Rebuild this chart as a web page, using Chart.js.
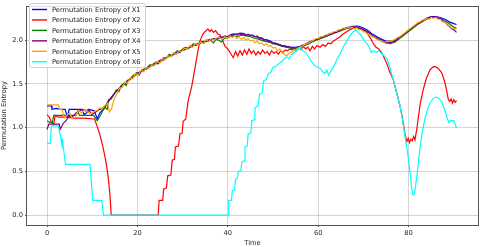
<!DOCTYPE html>
<html>
<head>
<meta charset="utf-8">
<script src="https://cdn.jsdelivr.net/npm/chart.js@4.4.1/dist/chart.umd.min.js"></script>
<style>
  html, body { margin: 0; padding: 0; background: #fff; }
  #wrap { width: 480px; height: 247px; }
</style>
</head>
<body>
<div id="wrap"><canvas id="chart" width="480" height="247"></canvas></div>
<script>
// series names and colours (matplotlib named colours)
const seriesNames = ['Permutation Entropy of X1', 'Permutation Entropy of X2', 'Permutation Entropy of X3',
                     'Permutation Entropy of X4', 'Permutation Entropy of X5', 'Permutation Entropy of X6'];
const seriesColors = ['#0000ff', '#ff0000', '#008000', '#800080', '#ffa500', '#00ffff'];

const xTicks = [0, 20, 40, 60, 80];
const yTicks = [0, 0.5, 1.0, 1.5, 2.0];

// [time, entropy]
const x1 = [[0,1.25],[1,1.25],[1.1,1.21],[2,1.22],[3,1.21],[4,1.21],[4.5,1.12],[4.9,1.21],[6,1.21],[7.7,1.21],[8.2,1.15],[8.8,1.17],[9.4,1.21],[10.5,1.19],[11.1,1.1],[11.7,1.17],[12.3,1.2],[12.9,1.24],[13.5,1.3],[14.1,1.33],[14.7,1.38],[15.3,1.42],[16,1.45],[16.6,1.49],[17.2,1.5],[17.8,1.54],[18.4,1.56],[19,1.59],[19.7,1.61],[20.3,1.63],[21,1.65],[21.6,1.67],[22.3,1.69],[23,1.71],[23.6,1.73],[24.3,1.74],[25,1.77],[25.6,1.78],[26.3,1.8],[27,1.82],[27.6,1.83],[28.3,1.85],[29,1.87],[29.6,1.88],[30.3,1.9],[31,1.91],[31.6,1.92],[32.3,1.94],[33,1.95],[33.6,1.96],[34.3,1.98],[35,1.99],[35.6,1.99],[36.3,2.01],[37,2.01],[38,2.02],[39,2.04],[40,2.04],[41,2.07],[42,2.07],[43,2.08],[44,2.06],[45,2.06],[46,2.04],[47,2.03],[48,2.01],[49,2.0],[50,1.97],[51,1.96],[52,1.94],[53,1.93],[54,1.92],[55,1.92],[56,1.93],[57,1.95],[58,1.98],[59,2.0],[60,2.02],[61,2.04],[62,2.06],[63,2.08],[64,2.1],[65,2.12],[66,2.14],[67,2.15],[68,2.16],[69,2.16],[70,2.14],[71,2.11],[72,2.07],[73,2.04],[74,2.01],[75,1.99],[76,1.99],[77,2.0],[78,2.03],[79,2.07],[80,2.11],[81,2.15],[82,2.19],[83,2.22],[84,2.25],[85,2.27],[86,2.27],[87,2.26],[88,2.24],[89,2.21],[90,2.19],[90.6,2.18]];

const x2 = [[0,1.15],[0.5,1.12],[1,1.06],[1.5,1.04],[1.8,1.14],[2.5,1.12],[4,1.12],[6,1.11],[8,1.11],[10.5,1.1],[11,1.03],[11.5,0.95],[12,0.86],[12.5,0.75],[13,0.62],[13.5,0.45],[13.9,0.25],[14.2,0],[24.6,0],[24.8,0.17],[25.6,0.17],[25.8,0.3],[26.4,0.31],[26.7,0.45],[27.4,0.46],[27.7,0.63],[28.2,0.64],[28.4,0.78],[29.1,0.79],[29.4,0.93],[29.9,0.94],[30.1,1.07],[30.7,1.1],[31.2,1.3],[32,1.47],[32.8,1.7],[33.4,1.88],[33.8,1.99],[34.5,2.07],[35,2.1],[35.6,2.13],[36,2.1],[36.4,2.12],[36.8,2.09],[37.3,2.11],[37.8,2.07],[38.3,2.06],[38.8,2.0],[39.4,1.93],[40,1.9],[40.5,1.86],[41.2,1.8],[41.7,1.87],[42.2,1.82],[42.7,1.88],[43.2,1.83],[43.7,1.89],[44.2,1.84],[44.7,1.9],[45.2,1.85],[45.7,1.88],[46.2,1.83],[46.7,1.87],[47.2,1.84],[47.7,1.89],[48.2,1.85],[48.7,1.87],[49.2,1.83],[49.7,1.88],[50.2,1.85],[50.7,1.87],[51.2,1.84],[51.7,1.88],[52.2,1.86],[52.7,1.89],[53.2,1.88],[53.7,1.9],[54.2,1.89],[54.7,1.91],[55.2,1.88],[55.7,1.92],[56.2,1.89],[56.7,1.93],[57.2,1.9],[57.7,1.92],[58.2,1.88],[58.7,1.93],[59.2,1.9],[59.7,1.94],[60.4,1.92],[61,1.95],[61.6,1.93],[62.2,1.97],[62.8,1.96],[63.3,1.99],[64,2.01],[64.8,2.04],[65.5,2.07],[66.4,2.1],[67,2.12],[67.8,2.14],[68.5,2.15],[69.2,2.13],[70,2.11],[70.8,2.08],[71.5,2.03],[72.2,1.96],[72.8,1.92],[73.4,1.9],[74,1.86],[74.6,1.8],[75.2,1.73],[75.8,1.64],[76.6,1.55],[77.3,1.41],[78,1.27],[78.6,1.12],[79.2,0.93],[79.6,0.84],[79.9,0.88],[80.2,0.83],[80.5,0.87],[80.8,0.85],[81.1,0.9],[81.4,0.86],[81.8,0.98],[82.1,1.1],[82.6,1.28],[83.2,1.43],[83.9,1.56],[84.7,1.66],[85.3,1.69],[85.8,1.7],[86.5,1.68],[87.3,1.63],[87.9,1.54],[88.4,1.43],[88.8,1.32],[89.1,1.3],[89.4,1.33],[89.7,1.28],[90,1.32],[90.3,1.29],[90.6,1.31]];

const x3 = [[0,1.08],[0.6,1.06],[1.2,1.06],[1.5,1.14],[6.5,1.14],[6.8,1.19],[7.2,1.14],[10.3,1.14],[11.1,1.08],[11.8,1.14],[12.4,1.2],[12.9,1.23],[13.3,1.21],[13.6,1.32],[14.2,1.33],[14.7,1.37],[15.3,1.43],[15.9,1.41],[16.4,1.48],[17,1.51],[17.5,1.48],[18.1,1.55],[18.7,1.57],[19.2,1.6],[19.8,1.63],[20.4,1.6],[21,1.66],[21.6,1.67],[22.2,1.69],[22.8,1.72],[23.4,1.71],[24,1.75],[24.6,1.73],[25.2,1.77],[25.8,1.8],[26.4,1.79],[27,1.84],[27.6,1.82],[28.2,1.85],[28.8,1.88],[29.4,1.86],[30,1.9],[30.6,1.92],[31.2,1.9],[31.8,1.93],[32.4,1.96],[33,1.94],[33.6,1.97],[34.2,1.99],[34.8,1.97],[35.4,2.0],[36,2.01],[36.8,1.97],[37.4,2.01],[38,2.0],[38.6,1.98],[39.2,2.02],[40,2.03],[41,2.05],[42,2.04],[43,2.06],[44,2.05],[45,2.04],[46,2.02],[47,2.01],[48,1.99],[49,1.98],[50,1.96],[51,1.95],[52,1.93],[53,1.92],[54,1.91],[55,1.9],[56,1.92],[57,1.94],[58,1.96],[59,1.99],[60,2.01],[61,2.03],[62,2.05],[63,2.07],[64,2.09],[65,2.11],[66,2.13],[67,2.14],[68,2.15],[69,2.14],[70,2.12],[71,2.09],[72,2.05],[73,2.02],[74,1.99],[75,1.97],[76,1.96],[77,1.98],[78,2.02],[79,2.06],[80,2.1],[81,2.14],[82,2.18],[83,2.21],[84,2.24],[85,2.26],[86,2.26],[87,2.25],[88,2.22],[89,2.19],[90,2.15],[90.6,2.14]];

const x4 = [[0,0.98],[0.4,1.04],[2.7,1.04],[2.9,0.98],[3.6,1.05],[4.2,1.08],[5,1.14],[5.5,1.12],[6.5,1.17],[7.5,1.2],[8,1.21],[8.6,1.19],[9.2,1.21],[9.9,1.15],[10.5,1.17],[11.1,1.19],[11.7,1.21],[12.3,1.22],[13,1.26],[13.6,1.3],[14.2,1.35],[14.8,1.38],[15.4,1.42],[16,1.45],[16.6,1.47],[17.2,1.51],[17.8,1.53],[18.4,1.55],[19,1.58],[19.6,1.6],[20.2,1.62],[20.8,1.64],[21.4,1.66],[22,1.67],[22.6,1.7],[23.2,1.71],[23.8,1.72],[24.4,1.74],[25,1.76],[25.6,1.77],[26.2,1.79],[26.8,1.81],[27.4,1.82],[28,1.84],[28.6,1.85],[29.2,1.86],[29.8,1.88],[30.4,1.89],[31,1.91],[31.6,1.92],[32.2,1.93],[32.8,1.95],[33.4,1.96],[34,1.97],[34.6,1.98],[35.2,1.99],[35.8,2.0],[36.4,2.01],[37,2.02],[37.6,2.02],[38.2,2.04],[38.8,2.03],[39.4,2.05],[40,2.04],[40.5,2.06],[41,2.05],[41.5,2.07],[42,2.06],[42.5,2.08],[43,2.06],[43.5,2.08],[44,2.06],[44.5,2.07],[45,2.05],[45.5,2.06],[46,2.04],[46.5,2.05],[47,2.02],[47.5,2.03],[48,2.0],[48.5,2.01],[49,1.98],[49.5,1.99],[50,1.96],[50.5,1.97],[51,1.95],[51.5,1.95],[52,1.93],[52.5,1.94],[53,1.92],[53.5,1.93],[54,1.91],[54.5,1.92],[55,1.91],[55.5,1.92],[56,1.92],[56.5,1.94],[57,1.94],[57.5,1.96],[58,1.96],[58.5,1.99],[59,1.99],[59.5,2.01],[60,2.01],[60.5,2.03],[61,2.03],[61.5,2.05],[62,2.05],[62.5,2.07],[63,2.07],[63.5,2.09],[64,2.09],[64.5,2.11],[65,2.11],[65.5,2.13],[66,2.13],[66.5,2.15],[67,2.14],[67.5,2.16],[68,2.15],[68.5,2.16],[69,2.14],[69.5,2.14],[70,2.12],[70.5,2.11],[71,2.09],[71.5,2.08],[72,2.05],[72.5,2.04],[73,2.02],[73.5,2.01],[74,1.99],[74.5,1.99],[75,1.97],[75.5,1.98],[76,1.97],[76.5,1.98],[77,1.99],[77.5,2.01],[78,2.03],[78.5,2.05],[79,2.07],[79.5,2.09],[80,2.11],[80.5,2.13],[81,2.15],[81.5,2.17],[82,2.19],[82.5,2.2],[83,2.22],[83.5,2.23],[84,2.25],[84.5,2.25],[85,2.27],[85.5,2.26],[86,2.27],[86.5,2.25],[87,2.25],[87.5,2.22],[88,2.21],[88.5,2.18],[89,2.16],[89.5,2.13],[90,2.12],[90.6,2.09]];

const x5 = [[0,1.26],[2.5,1.26],[2.8,1.21],[3.3,1.21],[3.6,1.15],[3.9,1.11],[4.5,1.15],[5,1.17],[5.5,1.11],[6.2,1.12],[7,1.2],[7.6,1.17],[8.3,1.21],[9,1.18],[9.8,1.16],[10.6,1.19],[11.2,1.2],[11.7,1.23],[12.2,1.22],[12.8,1.25],[13.4,1.28],[13.8,1.18],[14.3,1.22],[14.8,1.32],[15.4,1.38],[16,1.45],[16.6,1.46],[17.2,1.52],[17.8,1.51],[18.4,1.57],[19,1.56],[19.6,1.62],[20.2,1.6],[20.8,1.66],[21.4,1.64],[22,1.69],[22.6,1.68],[23.2,1.72],[23.8,1.71],[24.4,1.76],[25,1.74],[25.6,1.79],[26.2,1.78],[26.8,1.82],[27.4,1.81],[28,1.86],[28.6,1.84],[29.2,1.88],[29.8,1.87],[30.4,1.91],[31,1.9],[31.6,1.94],[32.2,1.92],[32.8,1.96],[33.4,1.95],[34,1.98],[34.6,1.96],[35.2,2.01],[35.8,1.98],[36.4,2.02],[37,2.0],[37.6,2.03],[38.2,2.03],[38.8,2.01],[39.4,2.04],[40,2.02],[40.5,2.05],[41,2.03],[41.5,2.05],[42,2.02],[42.5,2.04],[43,2.01],[43.5,2.03],[44,2.0],[44.5,2.02],[45,1.99],[45.5,2.0],[46,1.97],[46.5,1.99],[47,1.96],[47.5,1.97],[48,1.94],[48.5,1.96],[49,1.93],[49.5,1.94],[50,1.91],[50.5,1.92],[51,1.88],[51.5,1.9],[52,1.86],[52.5,1.84],[53,1.82],[53.5,1.85],[54,1.86],[54.5,1.88],[55,1.89],[55.5,1.91],[56,1.92],[56.5,1.93],[57,1.95],[57.5,1.96],[58,1.97],[58.5,1.99],[59,2.0],[59.5,2.02],[60,2.02],[60.5,2.04],[61,2.04],[61.5,2.06],[62,2.06],[62.5,2.08],[63,2.08],[63.5,2.1],[64,2.1],[64.5,2.12],[65,2.12],[65.5,2.14],[66,2.13],[66.5,2.15],[67,2.14],[67.5,2.15],[68,2.13],[68.5,2.14],[69,2.12],[69.5,2.12],[70,2.1],[70.5,2.09],[71,2.07],[71.5,2.06],[72,2.04],[72.5,2.03],[73,2.01],[73.5,2.0],[74,1.99],[74.5,1.98],[75,1.98],[75.5,1.99],[76,1.99],[76.5,2.0],[77,2.01],[77.5,2.03],[78,2.04],[78.5,2.06],[79,2.08],[79.5,2.1],[80,2.12],[80.5,2.14],[81,2.16],[81.5,2.18],[82,2.2],[82.5,2.21],[83,2.23],[83.5,2.23],[84,2.25],[84.5,2.24],[85,2.26],[85.5,2.25],[86,2.26],[86.5,2.24],[87,2.24],[87.5,2.21],[88,2.21],[88.5,2.18],[89,2.17],[89.5,2.14],[90,2.14],[90.6,2.12]];

const x6 = [[0,0.82],[0.7,0.82],[1,1.02],[2.5,1.02],[3.0,0.9],[3.3,0.8],[3.4,0.88],[3.6,0.78],[4.1,0.58],[9.5,0.58],[10.1,0.17],[12.1,0.17],[12.5,0],[40.1,0],[40.2,0.17],[40.8,0.17],[41,0.28],[41.5,0.29],[41.7,0.41],[42.1,0.42],[42.3,0.5],[42.9,0.51],[43.1,0.61],[43.6,0.62],[43.8,0.78],[44.3,0.79],[44.5,0.93],[45.1,0.94],[45.3,1.08],[45.8,1.09],[46,1.23],[46.7,1.25],[47,1.38],[47.6,1.4],[47.9,1.53],[48.5,1.55],[49,1.62],[49.5,1.63],[50,1.69],[50.6,1.7],[51.2,1.73],[52,1.76],[53,1.81],[53.5,1.79],[54.2,1.84],[55.2,1.88],[56,1.92],[56.6,1.88],[57.2,1.86],[57.8,1.82],[58.4,1.76],[58.9,1.73],[59.5,1.7],[60.4,1.68],[61,1.64],[61.5,1.62],[61.9,1.66],[62.3,1.6],[62.8,1.65],[63.3,1.69],[63.8,1.74],[64.3,1.8],[64.8,1.84],[65.5,1.92],[66.3,1.99],[67,2.05],[67.8,2.1],[68.3,2.12],[68.8,2.09],[69.4,2.06],[70,2.01],[70.6,1.97],[71.2,1.93],[71.7,1.86],[72.2,1.88],[72.8,1.86],[73.4,1.88],[74,1.85],[74.6,1.82],[75.2,1.79],[75.9,1.68],[76.6,1.55],[77.3,1.41],[78.1,1.25],[78.6,1.1],[79.2,0.91],[79.8,0.7],[80.3,0.5],[80.7,0.3],[81,0.23],[81.3,0.25],[81.8,0.43],[82.2,0.62],[82.5,0.76],[83,0.95],[83.6,1.1],[84.2,1.21],[84.7,1.28],[85.4,1.33],[86,1.35],[86.6,1.34],[87.3,1.3],[88,1.2],[88.6,1.1],[88.9,1.06],[89.2,1.08],[90,1.08],[90.3,1.04],[90.6,1.0]];

const seriesData = [x1, x2, x3, x4, x5, x6];

const FONT = 'DejaVu Sans';
Chart.defaults.font.family = FONT;
Chart.defaults.font.size = 6.7;
Chart.defaults.color = '#222';

// frame around the plot area, like matplotlib spines
const framePlugin = {
    id: 'frame',
    afterDatasetsDraw(chart) {
        const { ctx, chartArea: a } = chart;
        ctx.save();
        ctx.strokeStyle = '#555';
        ctx.lineWidth = 1;
        ctx.strokeRect(Math.round(a.left) - 0.5, Math.round(a.top) + 0.5,
                       Math.round(a.right - a.left) + 1, Math.round(a.bottom - a.top));
        ctx.restore();
    }
};

// legend box in the upper left corner, drawn over the lines
const legendPlugin = {
    id: 'cornerLegend',
    afterDraw(chart) {
        const ctx = chart.ctx;
        const boxX = 29.5, boxY = 3.5, boxW = 116, boxH = 64;
        ctx.save();
        ctx.fillStyle = 'rgba(255,255,255,0.8)';
        ctx.strokeStyle = '#d0d0d0';
        ctx.lineWidth = 1;
        ctx.beginPath();
        ctx.roundRect(boxX, boxY, boxW, boxH, 2);
        ctx.fill();
        ctx.stroke();
        ctx.font = `6.7px "${FONT}"`;
        ctx.textBaseline = 'middle';
        chart.data.datasets.forEach((ds, i) => {
            const y = 9.5 + i * 10.45;
            ctx.strokeStyle = ds.borderColor;
            ctx.lineWidth = 1.4;
            ctx.beginPath();
            ctx.moveTo(32, y);
            ctx.lineTo(47, y);
            ctx.stroke();
            ctx.fillStyle = '#222';
            ctx.fillText(ds.label, 52, y + 0.5);
        });
        ctx.restore();
    }
};

// later series are drawn on top, as in the original
const datasets = seriesData.map((pts, i) => ({
    label: seriesNames[i],
    data: pts,
    order: seriesData.length - i,
    borderColor: seriesColors[i],
    backgroundColor: seriesColors[i],
    borderWidth: 1.2,
    pointRadius: 0,
    tension: 0,
    fill: false
}));

new Chart(document.getElementById('chart'), {
    type: 'line',
    data: { datasets: datasets },
    options: {
        responsive: false,
        animation: false,
        layout: { padding: { top: 1, right: 2, left: 0, bottom: 0 } },
        plugins: {
            legend: { display: false },
            tooltip: { enabled: false }
        },
        scales: {
            x: {
                type: 'linear',
                min: -4.43,
                max: 95.35,
                afterBuildTicks: (s) => { s.ticks = xTicks.map(v => ({ value: v })); },
                afterFit: (s) => { s.height = 22; },
                ticks: { padding: 2, color: '#222', callback: (v) => String(v) },
                grid: { color: 'rgba(176,176,176,0.55)', lineWidth: 1, tickLength: 2, tickColor: '#555' },
                border: { display: false },
                title: { display: true, text: 'Time', color: '#222', padding: { top: 0, bottom: 0 }, font: { size: 6.7 } }
            },
            y: {
                type: 'linear',
                min: -0.112,
                max: 2.391,
                afterBuildTicks: (s) => { s.ticks = yTicks.map(v => ({ value: v })); },
                afterFit: (s) => { s.width = 27; },
                ticks: { padding: 2, color: '#222', callback: (v) => v.toFixed(1) },
                grid: { color: 'rgba(176,176,176,0.55)', lineWidth: 1, tickLength: 2, tickColor: '#555' },
                border: { display: false },
                title: { display: true, text: 'Permutation Entropy', color: '#222', padding: { top: 0, bottom: 0 }, font: { size: 6.7 } }
            }
        }
    },
    plugins: [framePlugin, legendPlugin]
});
</script>
</body>
</html>
